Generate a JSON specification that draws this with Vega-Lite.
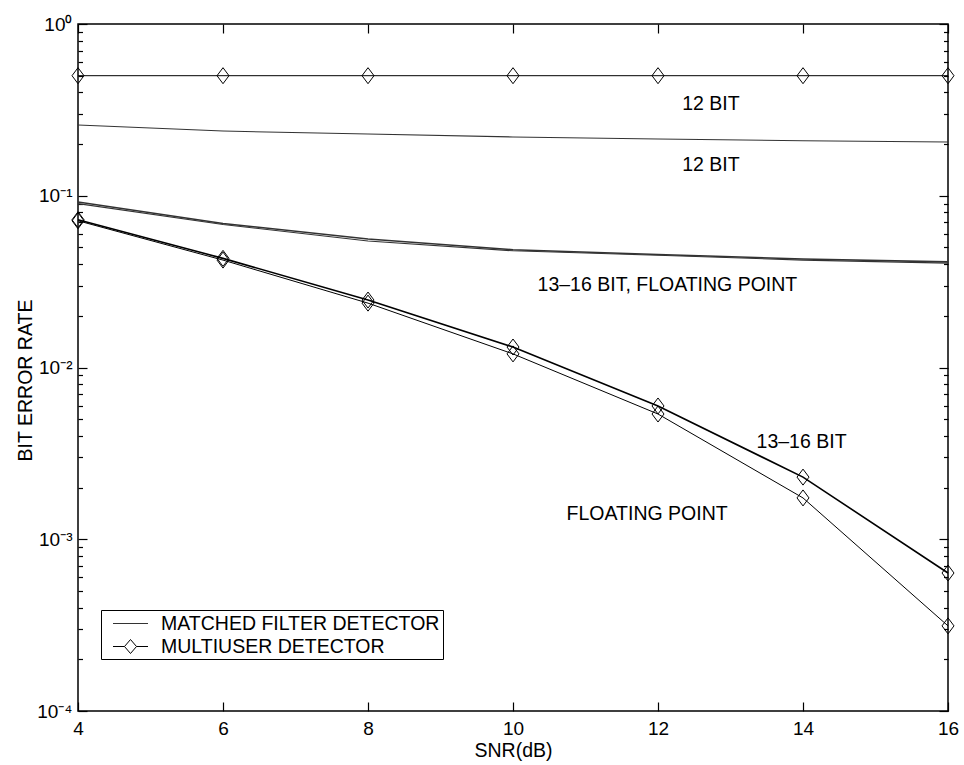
{
  "$schema": "https://vega.github.io/schema/vega-lite/v6.json",
  "width": 870,
  "height": 687,
  "autosize": {"type": "none"},
  "padding": {"left": 78, "top": 24, "right": 16, "bottom": 54},
  "background": "white",
  "config": {
    "font": "Liberation Sans",
    "view": {"stroke": "black", "strokeWidth": 1.5},
    "axis": {
      "grid": false,
      "domain": false,
      "ticks": true,
      "tickColor": "black",
      "tickWidth": 1.2,
      "tickOpacity": 1,
      "labelFont": "Liberation Sans",
      "labelFontSize": 19,
      "labelColor": "black",
      "titleFont": "Liberation Sans",
      "titleFontSize": 19.5,
      "titleFontWeight": "normal",
      "titleColor": "black"
    }
  },
  "datasets": {
    "curves": [
      {"snr": 4, "ber": 0.258, "series": "MF 12 BIT", "detector": "MATCHED FILTER DETECTOR"},
      {"snr": 6, "ber": 0.238, "series": "MF 12 BIT", "detector": "MATCHED FILTER DETECTOR"},
      {"snr": 8, "ber": 0.229, "series": "MF 12 BIT", "detector": "MATCHED FILTER DETECTOR"},
      {"snr": 10, "ber": 0.220, "series": "MF 12 BIT", "detector": "MATCHED FILTER DETECTOR"},
      {"snr": 12, "ber": 0.214, "series": "MF 12 BIT", "detector": "MATCHED FILTER DETECTOR"},
      {"snr": 14, "ber": 0.209, "series": "MF 12 BIT", "detector": "MATCHED FILTER DETECTOR"},
      {"snr": 16, "ber": 0.2056, "series": "MF 12 BIT", "detector": "MATCHED FILTER DETECTOR"},
      {"snr": 4, "ber": 0.092, "series": "MF 13-16 BIT", "detector": "MATCHED FILTER DETECTOR"},
      {"snr": 6, "ber": 0.069, "series": "MF 13-16 BIT", "detector": "MATCHED FILTER DETECTOR"},
      {"snr": 8, "ber": 0.056, "series": "MF 13-16 BIT", "detector": "MATCHED FILTER DETECTOR"},
      {"snr": 10, "ber": 0.0485, "series": "MF 13-16 BIT", "detector": "MATCHED FILTER DETECTOR"},
      {"snr": 12, "ber": 0.0455, "series": "MF 13-16 BIT", "detector": "MATCHED FILTER DETECTOR"},
      {"snr": 14, "ber": 0.0428, "series": "MF 13-16 BIT", "detector": "MATCHED FILTER DETECTOR"},
      {"snr": 16, "ber": 0.0412, "series": "MF 13-16 BIT", "detector": "MATCHED FILTER DETECTOR"},
      {"snr": 4, "ber": 0.090, "series": "MF FLOATING POINT", "detector": "MATCHED FILTER DETECTOR"},
      {"snr": 6, "ber": 0.068, "series": "MF FLOATING POINT", "detector": "MATCHED FILTER DETECTOR"},
      {"snr": 8, "ber": 0.0545, "series": "MF FLOATING POINT", "detector": "MATCHED FILTER DETECTOR"},
      {"snr": 10, "ber": 0.0478, "series": "MF FLOATING POINT", "detector": "MATCHED FILTER DETECTOR"},
      {"snr": 12, "ber": 0.045, "series": "MF FLOATING POINT", "detector": "MATCHED FILTER DETECTOR"},
      {"snr": 14, "ber": 0.0422, "series": "MF FLOATING POINT", "detector": "MATCHED FILTER DETECTOR"},
      {"snr": 16, "ber": 0.0405, "series": "MF FLOATING POINT", "detector": "MATCHED FILTER DETECTOR"},
      {"snr": 4, "ber": 0.5, "series": "MU 12 BIT", "detector": "MULTIUSER DETECTOR"},
      {"snr": 6, "ber": 0.5, "series": "MU 12 BIT", "detector": "MULTIUSER DETECTOR"},
      {"snr": 8, "ber": 0.5, "series": "MU 12 BIT", "detector": "MULTIUSER DETECTOR"},
      {"snr": 10, "ber": 0.5, "series": "MU 12 BIT", "detector": "MULTIUSER DETECTOR"},
      {"snr": 12, "ber": 0.5, "series": "MU 12 BIT", "detector": "MULTIUSER DETECTOR"},
      {"snr": 14, "ber": 0.5, "series": "MU 12 BIT", "detector": "MULTIUSER DETECTOR"},
      {"snr": 16, "ber": 0.5, "series": "MU 12 BIT", "detector": "MULTIUSER DETECTOR"},
      {"snr": 4, "ber": 0.0725, "series": "MU 13-16 BIT", "detector": "MULTIUSER DETECTOR"},
      {"snr": 6, "ber": 0.0432, "series": "MU 13-16 BIT", "detector": "MULTIUSER DETECTOR"},
      {"snr": 8, "ber": 0.0247, "series": "MU 13-16 BIT", "detector": "MULTIUSER DETECTOR"},
      {"snr": 10, "ber": 0.01316, "series": "MU 13-16 BIT", "detector": "MULTIUSER DETECTOR"},
      {"snr": 12, "ber": 0.00597, "series": "MU 13-16 BIT", "detector": "MULTIUSER DETECTOR"},
      {"snr": 14, "ber": 0.0023, "series": "MU 13-16 BIT", "detector": "MULTIUSER DETECTOR"},
      {"snr": 16, "ber": 0.000636, "series": "MU 13-16 BIT", "detector": "MULTIUSER DETECTOR"},
      {"snr": 4, "ber": 0.0715, "series": "MU FLOATING POINT", "detector": "MULTIUSER DETECTOR"},
      {"snr": 6, "ber": 0.0422, "series": "MU FLOATING POINT", "detector": "MULTIUSER DETECTOR"},
      {"snr": 8, "ber": 0.0237, "series": "MU FLOATING POINT", "detector": "MULTIUSER DETECTOR"},
      {"snr": 10, "ber": 0.0120, "series": "MU FLOATING POINT", "detector": "MULTIUSER DETECTOR"},
      {"snr": 12, "ber": 0.00536, "series": "MU FLOATING POINT", "detector": "MULTIUSER DETECTOR"},
      {"snr": 14, "ber": 0.00174, "series": "MU FLOATING POINT", "detector": "MULTIUSER DETECTOR"},
      {"snr": 16, "ber": 0.000313, "series": "MU FLOATING POINT", "detector": "MULTIUSER DETECTOR"}
    ],
    "notes": [
      {"snr": 12.73, "ber": 0.342, "label": "12 BIT"},
      {"snr": 12.73, "ber": 0.151, "label": "12 BIT"},
      {"snr": 12.13, "ber": 0.0302, "label": "13–16 BIT, FLOATING POINT"},
      {"snr": 13.98, "ber": 0.00368, "label": "13–16 BIT"},
      {"snr": 11.85, "ber": 0.0014, "label": "FLOATING POINT"}
    ]
  },
  "layer": [
    {
      "data": {"name": "curves"},
      "transform": [{"filter": "datum.detector === 'MATCHED FILTER DETECTOR'"}],
      "mark": {"type": "line", "clip": false},
      "encoding": {
        "x": {
          "field": "snr", "type": "quantitative",
          "scale": {"domain": [4, 16], "nice": false, "zero": false},
          "axis": {
            "orient": "bottom", "offset": -9, "values": [4, 6, 8, 10, 12, 14, 16],
            "tickSize": 9, "labelPadding": 8, "labelFlush": false,
            "title": "SNR(dB)", "titleBaseline": "middle", "titleY": 48, "titleX": 435
          }
        },
        "y": {
          "field": "ber", "type": "quantitative",
          "scale": {"type": "log", "domain": [0.0001, 1], "nice": false},
          "axis": {
            "orient": "left", "offset": -9, "values": [0.0001, 0.001, 0.01, 0.1, 1],
            "tickSize": 9, "labelPadding": 6, "labelFlush": false,
            "labelExpr": "datum.value >= 1 ? '10⁰' : datum.value >= 0.1 ? '10⁻¹' : datum.value >= 0.01 ? '10⁻²' : datum.value >= 0.001 ? '10⁻³' : '10⁻⁴'",
            "title": "BIT ERROR RATE", "titleX": -62, "titleY": 356, "titleBaseline": "middle", "titleAngle": -90
          }
        },
        "color": {
          "field": "detector", "type": "nominal",
          "scale": {"domain": ["MATCHED FILTER DETECTOR", "MULTIUSER DETECTOR"], "range": ["#333333", "#000000"]},
          "legend": {
            "orient": "none", "legendX": 23, "legendY": 586, "title": null,
            "padding": 3, "strokeColor": "black", "fillColor": "white", "cornerRadius": 0,
            "labelFontSize": 19.5, "labelFont": "Liberation Sans", "labelColor": "black", "labelLimit": 600,
            "symbolSize": 400, "symbolStrokeWidth": 1, "symbolFillColor": "transparent",
            "labelOffset": 36, "rowPadding": 3,
            "encode": {
              "symbols": {
                "update": {
                  "shape": {"signal": "datum.value === 'MULTIUSER DETECTOR' ? 'M-0.15,0L1,0M2.2,0L3.35,0M1.6,-0.7L2.2,0L1.6,0.7L1,0Z' : 'M-0.15,0L3.35,0'"},
                  "stroke": {"signal": "datum.value === 'MULTIUSER DETECTOR' ? '#000000' : '#808080'"}
                }
              }
            }
          }
        },
        "detail": {"field": "series"},
        "strokeWidth": {
          "condition": {"test": "indexof(datum.series, '13-16') >= 0", "value": 1.6},
          "value": 1.1
        }
      }
    },
    {
      "data": {"name": "curves"},
      "transform": [{"filter": "datum.detector === 'MULTIUSER DETECTOR'"}],
      "mark": {"type": "line", "clip": false},
      "encoding": {
        "x": {
          "field": "snr", "type": "quantitative",
          "scale": {"domain": [4, 16], "nice": false, "zero": false},
          "axis": {"orient": "top", "offset": -9, "values": [4, 6, 8, 10, 12, 14, 16], "tickSize": 9, "labels": false, "title": null}
        },
        "y": {
          "field": "ber", "type": "quantitative",
          "scale": {"type": "log", "domain": [0.0001, 1], "nice": false},
          "axis": {
            "orient": "right", "offset": -4.5, "labels": false, "title": null, "tickSize": 4.5,
            "values": [0.0002, 0.0003, 0.0004, 0.0005, 0.0006, 0.0007, 0.0008, 0.0009, 0.002, 0.003, 0.004, 0.005, 0.006, 0.007, 0.008, 0.009, 0.02, 0.03, 0.04, 0.05, 0.06, 0.07, 0.08, 0.09, 0.2, 0.3, 0.4, 0.5, 0.6, 0.7, 0.8, 0.9]
          }
        },
        "color": {"field": "detector", "type": "nominal"},
        "detail": {"field": "series"},
        "strokeWidth": {
          "condition": {"test": "indexof(datum.series, '13-16') >= 0", "value": 1.6},
          "value": 1
        }
      }
    },
    {
      "data": {"name": "curves"},
      "transform": [{"filter": "datum.detector === 'MULTIUSER DETECTOR'"}],
      "mark": {"type": "point", "shape": "M0,-1L0.75,0L0,1L-0.75,0Z", "size": 256, "filled": false, "stroke": "black", "strokeWidth": 1, "opacity": 1},
      "encoding": {
        "x": {
          "field": "snr", "type": "quantitative",
          "scale": {"domain": [4, 16], "nice": false, "zero": false},
          "axis": null
        },
        "y": {
          "field": "ber", "type": "quantitative",
          "scale": {"type": "log", "domain": [0.0001, 1], "nice": false},
          "axis": {
            "orient": "left", "offset": -4.5, "labels": false, "title": null, "tickSize": 4.5,
            "values": [0.0002, 0.0003, 0.0004, 0.0005, 0.0006, 0.0007, 0.0008, 0.0009, 0.002, 0.003, 0.004, 0.005, 0.006, 0.007, 0.008, 0.009, 0.02, 0.03, 0.04, 0.05, 0.06, 0.07, 0.08, 0.09, 0.2, 0.3, 0.4, 0.5, 0.6, 0.7, 0.8, 0.9]
          }
        }
      }
    },
    {
      "data": {"name": "notes"},
      "mark": {"type": "text", "fontSize": 19.5, "font": "Liberation Sans", "align": "center", "baseline": "middle", "color": "black"},
      "encoding": {
        "x": {"field": "snr", "type": "quantitative", "scale": {"domain": [4, 16], "nice": false, "zero": false}, "axis": null},
        "y": {
          "field": "ber", "type": "quantitative",
          "scale": {"type": "log", "domain": [0.0001, 1], "nice": false},
          "axis": {
            "orient": "right", "offset": -9, "labels": false, "title": null, "tickSize": 9,
            "values": [0.0001, 0.001, 0.01, 0.1, 1]
          }
        },
        "text": {"field": "label", "type": "nominal"}
      }
    }
  ],
  "resolve": {"axis": {"x": "independent", "y": "independent"}}
}
